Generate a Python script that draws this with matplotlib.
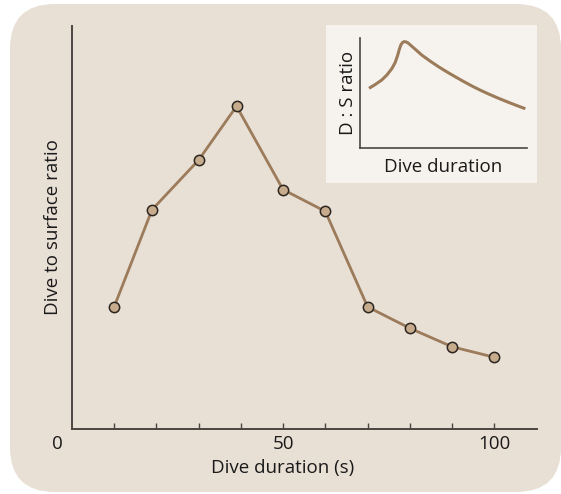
"""Dive to surface ratio vs dive duration, with schematic inset."""
import matplotlib
matplotlib.use("Agg")
import matplotlib.pyplot as plt
from matplotlib.patches import FancyBboxPatch, Rectangle
from matplotlib.transforms import ScaledTranslation

# main series (y in arbitrary units, axis runs 0-100)
duration = [10, 19, 30, 39, 50, 60, 70, 80, 90, 100]
ratio = [30.2, 54.4, 66.7, 80.1, 59.4, 54.0, 30.3, 25.0, 20.4, 17.8]
tick_pos = [0, 50, 100]
tick_labels = ["0", "50", "100"]
minor_pos = [10, 20, 30, 40, 50, 60, 70, 80, 90, 100]

# inset schematic curve (arbitrary units)
inset_x = [5.4, 9, 13, 16, 19, 21, 22.5, 23.5, 24.5, 25.5, 26.5, 27.6, 28.7,
           32, 37, 42, 47, 52, 57, 62, 67, 72, 77, 82, 87, 93, 99]
inset_y = [54.3, 57.6, 61.8, 66.2, 72.0, 77.5, 84.0, 89.5, 93.8, 96.0, 96.7, 96.4, 95.6,
           91.2, 84.5, 79.0, 73.9, 69.2, 64.8, 60.5, 56.4, 52.6, 49.1, 45.8, 42.7, 39.1, 35.7]

PANEL = "#e8dfd5"
INSET_BG = "#f6f3ee"
LINE = "#9c7b5b"
AXIS = "#4a4540"
TEXT = "#1a1a1a"
FS = 13.5

plt.rcParams["font.family"] = ["Open Sans", "DejaVu Sans"]
plt.rcParams["font.size"] = FS

W, H = 561, 494
fig = plt.figure(figsize=(W / 100, H / 100), dpi=100)
fig.patch.set_facecolor("white")

# rounded background panel
fig.patches.append(FancyBboxPatch((10 / W, 2 / H), (W - 10) / W, (H - 6) / H,
                                  boxstyle="round,pad=0,rounding_size=0.08",
                                  transform=fig.transFigure, facecolor=PANEL,
                                  edgecolor="none", zorder=-2,
                                  mutation_aspect=W / H))

ax = fig.add_axes([71.7 / W, (H - 429) / H, 465 / W, 403 / H])
ax.set_facecolor("none")
ax.plot(duration, ratio, color=LINE, lw=2, zorder=2)
ax.scatter(duration, ratio, s=55, facecolor="#c6ab8c", edgecolor="#2b2520",
           linewidth=1.1, zorder=3)
ax.set_xlim(0, 110)
ax.set_ylim(0, 100)
for s in ["top", "right"]:
    ax.spines[s].set_visible(False)
for s in ["left", "bottom"]:
    ax.spines[s].set_color(AXIS)
    ax.spines[s].set_linewidth(1.4)
ax.set_yticks([])
ax.set_xticks(tick_pos)
ax.set_xticklabels(tick_labels)
ax.set_xticks(minor_pos, minor=True)
ax.xaxis.remove_overlapping_locs = False
ax.tick_params(axis="x", which="major", length=0, pad=4, labelsize=FS, labelcolor=TEXT)
ax.tick_params(axis="x", which="minor", direction="in", length=4.5, width=1, color=AXIS)
zero = ax.get_xticklabels()[0]
zero.set_transform(zero.get_transform() + ScaledTranslation(-0.14, 0, fig.dpi_scale_trans))
ax.set_xlabel("Dive duration (s)", fontsize=FS, color=TEXT, va="center")
ax.xaxis.set_label_coords(50 / 110, -39 / 403)
ax.set_ylabel("Dive to surface ratio", fontsize=FS, labelpad=7, color=TEXT)

# inset
fig.patches.append(Rectangle((326 / W, (H - 183) / H), 211 / W, 158 / H,
                             transform=fig.transFigure, facecolor=INSET_BG,
                             edgecolor="none", zorder=1))
ins = fig.add_axes([360 / W, (H - 148) / H, 167 / W, 110 / H], zorder=2)
ins.set_facecolor("none")
ins.plot(inset_x, inset_y, color=LINE, lw=2.2, solid_joinstyle="round",
         solid_capstyle="butt")
ins.set_xlim(0, 100)
ins.set_ylim(0, 100)
ins.set_xticks([])
ins.set_yticks([])
for s in ["top", "right"]:
    ins.spines[s].set_visible(False)
for s in ["left", "bottom"]:
    ins.spines[s].set_color(AXIS)
    ins.spines[s].set_linewidth(1.2)
ins.set_xlabel("Dive duration", fontsize=FS, labelpad=7, color=TEXT)
ins.set_ylabel("D : S ratio", fontsize=FS, labelpad=2, color=TEXT)

fig.savefig("out.png", dpi=100)
